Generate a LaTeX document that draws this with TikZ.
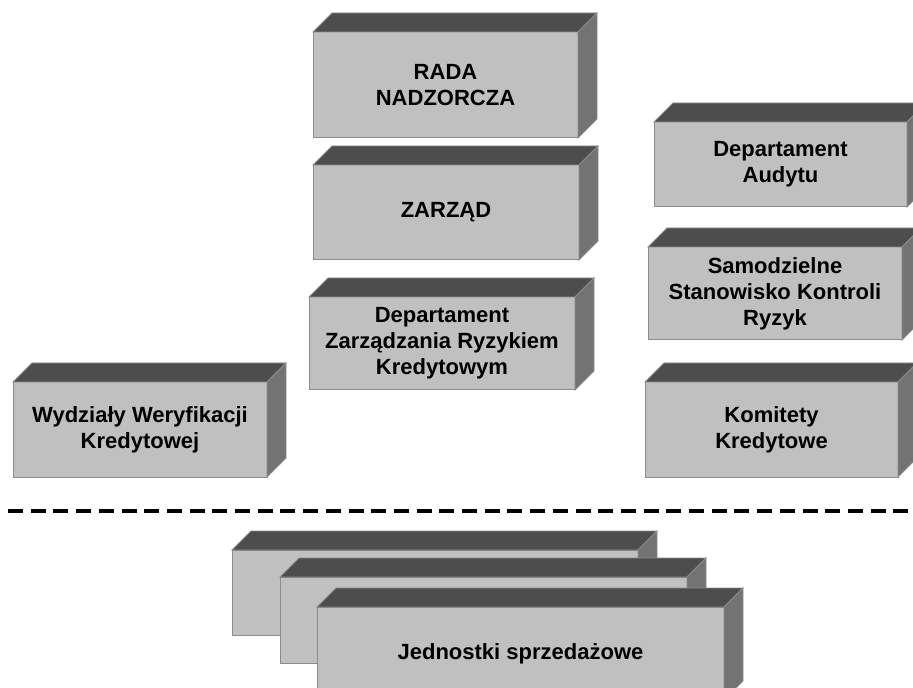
\documentclass[tikz,border=0pt]{standalone}
\usepackage{fontspec}
\setmainfont{Liberation Sans}
\usetikzlibrary{positioning}
\definecolor{przod}{RGB}{192, 192, 192}
\definecolor{gora}{RGB}{77, 77, 77}
\definecolor{bok}{RGB}{115, 115, 115}
\definecolor{ramka}{RGB}{140, 140, 140}

% scianki gorna i boczna bryly
\newcommand{\scianki}[1]{%
    \filldraw[gora, draw=ramka, line width=0.4pt]
        (#1.north west) -- ++(19,-19) -- ([shift={(19,-19)}]#1.north east) -- (#1.north east) -- cycle;
    \filldraw[bok, draw=ramka, line width=0.4pt]
        (#1.north east) -- ++(19,-19) -- ([shift={(19,-19)}]#1.south east) -- (#1.south east) -- cycle;
}

\begin{document}
\begin{tikzpicture}[
    x=0.5pt, y=-0.5pt,
    kostka/.style={draw=ramka, fill=przod, line width=0.5pt, inner sep=0pt, outer sep=0pt,
        align=center, font=\fontsize{11}{13}\selectfont\bfseries},
    kreska/.style={line width=2pt, dash pattern=on 7.5pt off 3.85pt}
]
    \useasboundingbox (0,0) rectangle (913,688);
    \begin{scope}
    \clip (0,0) rectangle (913,688);

    % ================= kolumna srodkowa =================
    \node[kostka, minimum width=132.5pt, minimum height=53pt] (rada) at (445.5, 85) {RADA\\NADZORCZA};
    \scianki{rada}
    \node[kostka, minimum width=133pt, minimum height=47.5pt] (zarzad) at (446, 212.5) {ZARZĄD};
    \scianki{zarzad}
    \node[kostka, minimum width=133pt, minimum height=46.5pt] (dzrk) at (442, 343.5)
        {Departament\\Zarządzania Ryzykiem\\Kredytowym};
    \scianki{dzrk}

    % ================= kolumna prawa =================
    \node[kostka, minimum width=126.5pt, minimum height=42.5pt] (audyt) at (780.5, 164.5) {Departament\\Audytu};
    \scianki{audyt}
    \node[kostka, minimum width=127pt, minimum height=46.5pt] (sskr) at (775, 293.5)
        {Samodzielne\\Stanowisko Kontroli\\Ryzyk};
    \scianki{sskr}
    \node[kostka, minimum width=126.5pt, minimum height=47.5pt] (komitety) at (771.5, 429.5) {Komitety\\Kredytowe};
    \scianki{komitety}

    % ================= kolumna lewa =================
    \node[kostka, minimum width=127pt, minimum height=47.5pt] (wydzialy) at (140, 429.5)
        {Wydziały Weryfikacji\\Kredytowej};
    \scianki{wydzialy}

    % ================= linia podzialu =================
    \coordinate (linL) at (8, 511);
    \coordinate (linP) at (913, 511);
    \draw[kreska] (linL) -- (linP);

    % ================= jednostki sprzedazowe =================
    \node[kostka, minimum width=203pt, minimum height=42.5pt] (jedn1) at (435, 592.5) {};
    \scianki{jedn1}
    \node[kostka, minimum width=203.5pt, minimum height=43pt] (jedn2) at (483.5, 620) {};
    \scianki{jedn2}
    \node[kostka, minimum width=203.5pt, minimum height=46.5pt] (jedn3) at (520.5, 653.5) {Jednostki sprzedażowe};
    \scianki{jedn3}
    \end{scope}
\end{tikzpicture}
\end{document}
